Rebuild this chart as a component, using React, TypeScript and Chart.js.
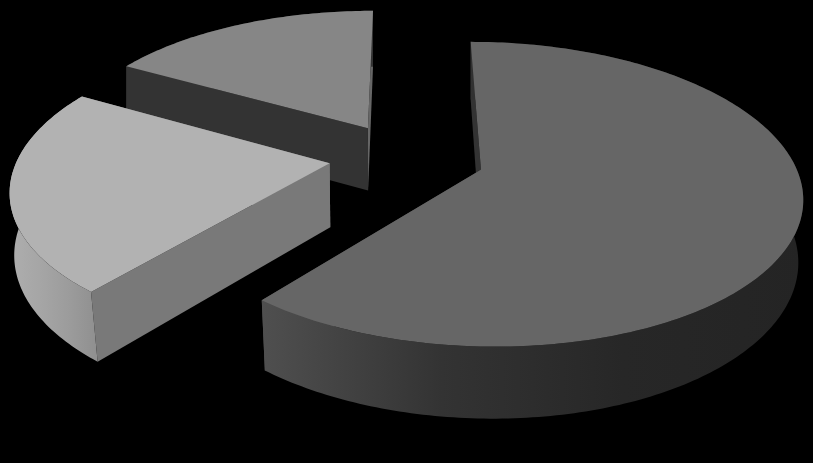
// 3D exploded pie: Chart.js computes the slice angles, a plugin projects them in perspective
import { useEffect, useRef } from 'react';
import { Chart, registerables } from 'chart.js';
Chart.register(...registerables);

const categories = ['Slice A', 'Slice B', 'Slice C'];
const values = [61, 22.2, 16.8];
const offsets = [158, 147, 145];

const topColors = ['#666666', '#b2b2b2', '#868686'];
// wall shading, left to right across each slice
const wallStops = [
  ['#4f4f4f', '#333333', '#272727', '#242424'],
  ['#aeaeae', '#a6a6a6', '#9c9c9c', '#8f8f8f'],
  ['#333333', '#333333', '#333333', '#333333'],
];
const startFaceColors = ['#333333', '#797979', '#333333'];
const endFaceColors = ['#4f4f4f', '#797979', '#666666'];

const DEPTH = 1; // wall thickness in projection units

// perspective projection of pie-plane coordinates (u right, v away, z down)
function project(u: number, v: number, z: number) {
  const w = 1 + 0.1578 * v;
  const x = (404 + 311.6 * u + 64.1 * v) / w;
  // walls lean in towards the centre, more so at the front of the pie
  const lean = Math.max(0, 0.008 - 0.016 * v) * z;
  return {
    x: 404 + (x - 404) * (1 - lean),
    y: (157 - 119.6 * v + 67.9 * z) / (w + 0.0196 * z),
  };
}

const pie3d = {
  id: 'pie3d',
  beforeDatasetsDraw(chart: Chart) {
    const { ctx } = chart;
    const arcs = chart.getDatasetMeta(0).data as any[];
    // painter's order: back slices first
    const order = arcs.map((_, i) => i).reverse();

    for (const i of order) {
      const arc = arcs[i];
      const { startAngle, endAngle, outerRadius } = arc;
      const mid = (startAngle + endAngle) / 2;
      const e = arc.options.offset / 4 / outerRadius;
      const cu = Math.cos(mid) * e;
      const cv = -Math.sin(mid) * e;

      const rim: { u: number; v: number }[] = [];
      const steps = Math.ceil((endAngle - startAngle) * 60);
      for (let s = 0; s <= steps; s++) {
        const a = startAngle + ((endAngle - startAngle) * s) / steps;
        rim.push({ u: cu + Math.cos(a), v: cv - Math.sin(a) });
      }
      const first = rim[0];
      const last = rim[rim.length - 1];

      const poly = (pts: { x: number; y: number }[], fill: string | CanvasGradient) => {
        ctx.beginPath();
        pts.forEach((p, k) => (k ? ctx.lineTo(p.x, p.y) : ctx.moveTo(p.x, p.y)));
        ctx.closePath();
        ctx.fillStyle = fill;
        ctx.fill();
      };

      const face = (p: { u: number; v: number }, fill: string) =>
        poly(
          [
            project(cu, cv, 0),
            project(p.u, p.v, 0),
            project(p.u, p.v, DEPTH),
            project(cu, cv, DEPTH),
          ],
          fill,
        );

      // cut faces, the one on the far side goes first
      if (first.v > last.v) {
        face(first, startFaceColors[i]);
        face(last, endFaceColors[i]);
      } else {
        face(last, endFaceColors[i]);
        face(first, startFaceColors[i]);
      }

      // outer wall
      const wallPts = [
        ...rim.map(p => project(p.u, p.v, 0)),
        ...rim.slice().reverse().map(p => project(p.u, p.v, DEPTH)),
      ];
      const xs = wallPts.map(p => p.x);
      const grad = ctx.createLinearGradient(Math.min(...xs), 0, Math.max(...xs), 0);
      wallStops[i].forEach((c, k) => grad.addColorStop(k / 3, c));
      poly(wallPts, grad);

      // top face
      poly([project(cu, cv, 0), ...rim.map(p => project(p.u, p.v, 0))], arc.options.backgroundColor);
    }
    return false; // the native flat arcs are replaced
  },
};

export default function App() {
  const canvasRef = useRef<HTMLCanvasElement>(null);

  useEffect(() => {
    document.body.style.margin = '0';
    document.body.style.background = '#000';
    const canvas = canvasRef.current;
    if (!canvas) return;
    const chart = new Chart(canvas, {
      type: 'pie',
      data: {
        labels: categories,
        datasets: [{
          data: values,
          backgroundColor: topColors,
          borderWidth: 0,
          offset: offsets,
        }],
      },
      options: {
        animation: false,
        responsive: true,
        maintainAspectRatio: false,
        plugins: {
          legend: { display: false },
          tooltip: { enabled: false },
        },
      },
      plugins: [pie3d],
    } as any);
    return () => chart.destroy();
  }, []);

  return (
    <div style={{ position: 'relative', width: 813, height: 463, background: '#000' }}>
      <canvas ref={canvasRef} />
    </div>
  );
}
